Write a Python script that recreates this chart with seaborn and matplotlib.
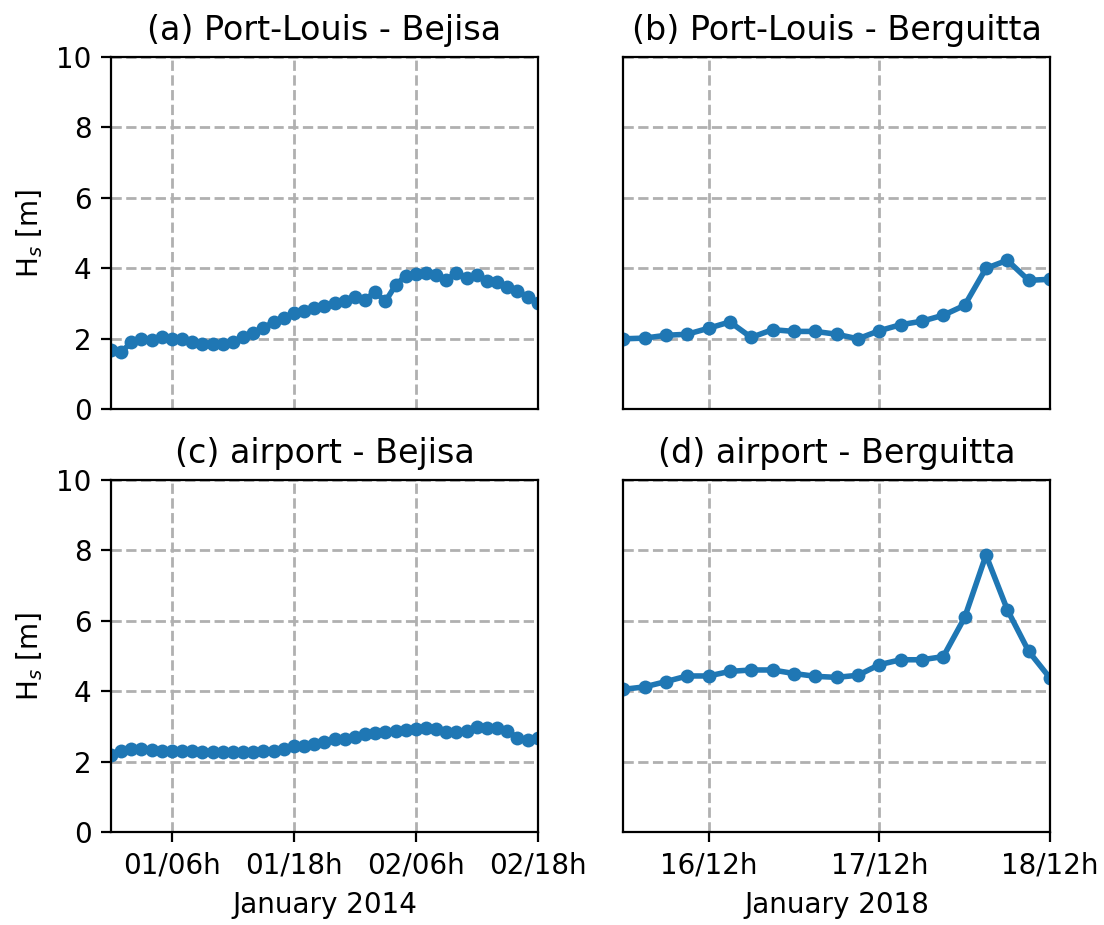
import matplotlib
matplotlib.use("Agg")
import matplotlib.pyplot as plt
import matplotlib.dates as mdates
import pandas as pd
import seaborn as sns

# Bejisa (hourly, 01/00h -> 02/18h, January 2014)
bejisa_start = "2014-01-01 00:00"
bejisa_end = "2014-01-02 18:00"
hs_portlouis_bejisa = [
    1.69, 1.62, 1.90, 2.00, 1.96, 2.04, 2.00, 2.00, 1.91, 1.85,
    1.85, 1.85, 1.92, 2.04, 2.17, 2.32, 2.47, 2.59, 2.72, 2.80,
    2.87, 2.92, 3.01, 3.06, 3.18, 3.11, 3.33, 3.06, 3.52, 3.79,
    3.84, 3.87, 3.82, 3.68, 3.87, 3.74, 3.82, 3.65, 3.61, 3.47,
    3.35, 3.20, 3.01,
]
hs_airport_bejisa = [
    2.20, 2.29, 2.36, 2.36, 2.33, 2.31, 2.29, 2.29, 2.29, 2.27,
    2.27, 2.27, 2.27, 2.27, 2.28, 2.29, 2.31, 2.35, 2.43, 2.45,
    2.51, 2.55, 2.63, 2.64, 2.69, 2.77, 2.82, 2.85, 2.88, 2.90,
    2.92, 2.96, 2.92, 2.83, 2.83, 2.88, 2.98, 2.96, 2.95, 2.88,
    2.67, 2.60, 2.67,
]

# Berguitta (3-hourly, 16/00h -> 18/12h, January 2018)
berguitta_start = "2018-01-16 00:00"
berguitta_end = "2018-01-18 12:00"
hs_portlouis_berguitta = [
    2.00, 2.02, 2.10, 2.13, 2.30, 2.48, 2.04, 2.26, 2.21, 2.21,
    2.13, 2.00, 2.23, 2.40, 2.50, 2.67, 2.95, 4.00, 4.23, 3.66,
    3.69,
]
hs_airport_berguitta = [
    4.05, 4.12, 4.27, 4.43, 4.43, 4.56, 4.60, 4.60, 4.50, 4.42,
    4.39, 4.45, 4.75, 4.89, 4.89, 4.98, 6.09, 7.86, 6.31, 5.13,
    4.37,
]

titles = ["(a) Port-Louis - Bejisa", "(b) Port-Louis - Berguitta",
          "(c) airport - Bejisa", "(d) airport - Berguitta"]
xlabels = ["January 2014", "January 2018"]

t_bejisa = pd.date_range(bejisa_start, bejisa_end, freq="1h")
t_berguitta = pd.date_range(berguitta_start, berguitta_end, freq="3h")

series = [
    (t_bejisa, hs_portlouis_bejisa),
    (t_berguitta, hs_portlouis_berguitta),
    (t_bejisa, hs_airport_bejisa),
    (t_berguitta, hs_airport_berguitta),
]

fig, axes = plt.subplots(2, 2, figsize=(5.52, 4.625), dpi=200)
fig.subplots_adjust(left=0.1005, right=0.9511, bottom=0.1005, top=0.9384,
                    wspace=0.2, hspace=0.2)

for i, ax in enumerate(axes.flat):
    t, hs = series[i]
    df = pd.DataFrame({"time": t, "hs": hs})
    sns.lineplot(data=df, x="time", y="hs", ax=ax, marker="o",
                 markersize=5, markeredgewidth=0, linewidth=2,
                 color="#1f77b4", clip_on=True)
    ax.set_title(titles[i], fontsize=12)
    ax.set_ylim(0, 10)
    ax.set_yticks([0, 2, 4, 6, 8, 10])
    ax.set_xlim(t[0], t[-1])
    ax.grid(True, linestyle="--", color="#b0b0b0", linewidth=1.0)
    ax.set_xlabel("")
    ax.set_ylabel("")

    col = i % 2
    row = i // 2
    if col == 0:
        ax.xaxis.set_major_locator(mdates.HourLocator(byhour=[6, 18]))
        ax.set_ylabel(r"H$_s$ [m]", fontsize=10)
    else:
        ax.xaxis.set_major_locator(mdates.HourLocator(byhour=[12]))
        ax.tick_params(axis="y", left=False, labelleft=False)
    ax.xaxis.set_major_formatter(mdates.DateFormatter("%d/%Hh"))
    if row == 0:
        ax.tick_params(axis="x", bottom=False, labelbottom=False)
    else:
        ax.set_xlabel(xlabels[col], fontsize=10)
    ax.tick_params(labelsize=10)

plt.savefig("out.png", dpi=200)
